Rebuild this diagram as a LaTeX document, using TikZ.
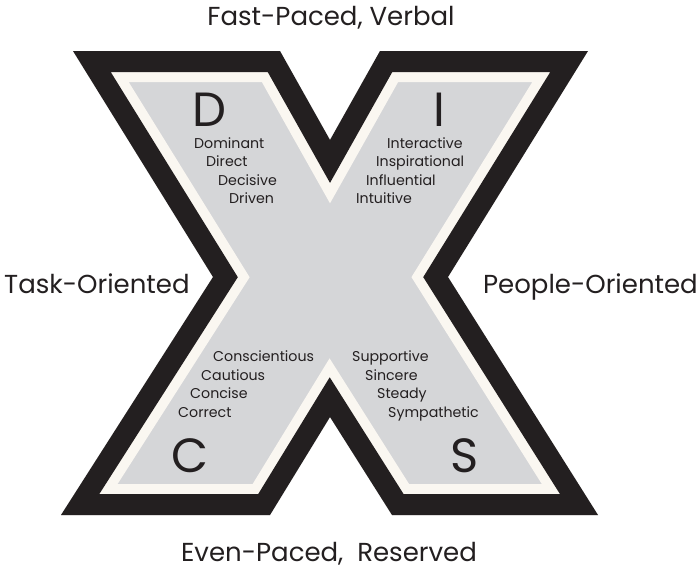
\documentclass[tikz,border=0pt]{standalone}
\usepackage{fontspec}
\setmainfont{Poppins}
\definecolor{xblack}{HTML}{231F20}
\definecolor{xcream}{HTML}{FAF7F1}
\definecolor{xgray}{HTML}{D5D6D8}
\def\Xpath{(73,51) -- (280,51) -- (330,140) -- (380,51) -- (588,51) -- (448,277) -- (598,515) -- (392,515) -- (330,417) -- (270,515) -- (61,515) -- (213,277) -- cycle}
\begin{document}
\begin{tikzpicture}[x=1pt,y=-1pt,
  axislabel/.style={font=\fontsize{26}{30}\selectfont, text=xblack, inner sep=0pt},
  bigletter/.style={font=\fontsize{48}{50}\selectfont, text=xblack, anchor=base west, inner sep=0pt, text depth=0pt},
  word/.style={font=\fontsize{14.2}{17}\selectfont, text=xblack, anchor=base west, inner sep=0pt},
  band/.style={line join=miter, miter limit=20}
]
\useasboundingbox[fill=white] (0,0) rectangle (700,570);
\begin{scope}
  \clip \Xpath;
  \fill[xgray] \Xpath;
  \draw[band, xcream, line width=62pt] \Xpath;
  \draw[band, xblack, line width=42pt] \Xpath;
\end{scope}

\node[axislabel, anchor=base] (top) at (331,25) {Fast-Paced, Verbal};
\node[axislabel, anchor=base west] (left) at (4,293) {Task-Oriented};
\node[axislabel, anchor=base east] (right) at (698,293) {People-Oriented};
\node[axislabel, anchor=base] (bottom) at (329,561) {Even-Paced,\ \ Reserved};

\node[bigletter] (D) at (192,126) {D};
\node[bigletter] (I) at (433,126) {I};
\node[bigletter] (C) at (171,472) {C};
\node[bigletter] (S) at (450,472) {S};

\node[word] (d1) at (194,148) {Dominant};
\node[word] (d2) at (206,166.5) {Direct};
\node[word] (d3) at (218,185) {Decisive};
\node[word] (d4) at (229,203) {Driven};

\node[word] (i1) at (387,148) {Interactive};
\node[word] (i2) at (376,166.5) {Inspirational};
\node[word] (i3) at (366,185) {Influential};
\node[word] (i4) at (356,203) {Intuitive};

\node[word] (c1) at (213,361) {Conscientious};
\node[word] (c2) at (201,380) {Cautious};
\node[word] (c3) at (190,398.5) {Concise};
\node[word] (c4) at (178,417) {Correct};

\node[word] (s1) at (352,361) {Supportive};
\node[word] (s2) at (365,380) {Sincere};
\node[word] (s3) at (377,398.5) {Steady};
\node[word] (s4) at (388,417) {Sympathetic};
\end{tikzpicture}
\end{document}
